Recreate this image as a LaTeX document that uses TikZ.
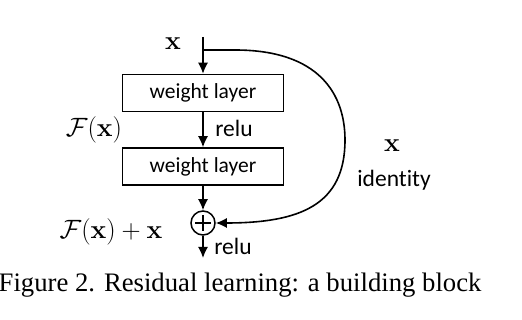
\RequirePackage{fix-cm}
\documentclass[tikz,border=0pt]{standalone}
\usepackage[no-math]{fontspec}
\newfontfamily\sansf[Ligatures=NoCommon]{Carlito}
\newfontfamily\capf{Liberation Serif}
\usetikzlibrary{arrows.meta}
\begin{document}
\begin{tikzpicture}[x=1pt,y=-1pt,
  layerbox/.style={draw,line width=1.5pt,minimum width=161pt,minimum height=37pt,inner sep=0pt,
    font=\sansf\fontsize{21.5}{24}\selectfont},
  lbl/.style={inner sep=0pt,font=\sansf\fontsize{23.5}{26}\selectfont},
  mth/.style={inner sep=0pt,font=\fontsize{26.5}{30}\selectfont},
  conn/.style={line width=1.6pt,-{Latex[length=11pt,width=10pt]}},
  sumnode/.style={circle,draw,line width=1.5pt,minimum size=24pt,inner sep=0pt}]
\useasboundingbox[fill=white] (0,0) rectangle (522,320);
\node[layerbox] (w1) at (203,93) {weight layer};
\node[layerbox] (w2) at (203,166.5) {weight layer};
\node[sumnode] (sum) at (203,223) {};
\draw[line width=1.5pt] ([xshift=-8pt]sum.center) -- ([xshift=8pt]sum.center);
\draw[line width=1.5pt] ([yshift=-8pt]sum.center) -- ([yshift=8pt]sum.center);
\coordinate (in) at (203,37);
\coordinate (out) at (203,258);
\coordinate (br) at (203,50);
\draw[conn] (in) -- (w1.north);
\draw[conn] (w1.south) -- (w2.north);
\draw[conn] (w2.south) -- (sum.north);
\draw[conn] (sum.south) -- (out);
\draw[conn] (br) -- (235,50) .. controls (320,50) and (345,95) .. (345,140)
   .. controls (345,205) and (300,223) .. (sum.east);
\node[mth] (xin) at (173,44) {$\mathbf{x}$};
\node[mth] (fx) at (94,130) {$\mathcal{F}(\mathbf{x})$};
\node[mth] (fxx) at (111,232) {$\mathcal{F}(\mathbf{x})+\mathbf{x}$};
\node[mth] (xid) at (392,146) {$\mathbf{x}$};
\node[lbl] (id) at (394,180) {identity};
\node[lbl] (r1) at (234,128) {relu};
\node[lbl] (r2) at (233,246) {relu};
\node[inner sep=0pt,anchor=base west,font=\capf\fontsize{26.7}{30}\selectfont] (cap) at (-1.5,292) {Figure 2. Residual learning: a building block};
\end{tikzpicture}
\end{document}
